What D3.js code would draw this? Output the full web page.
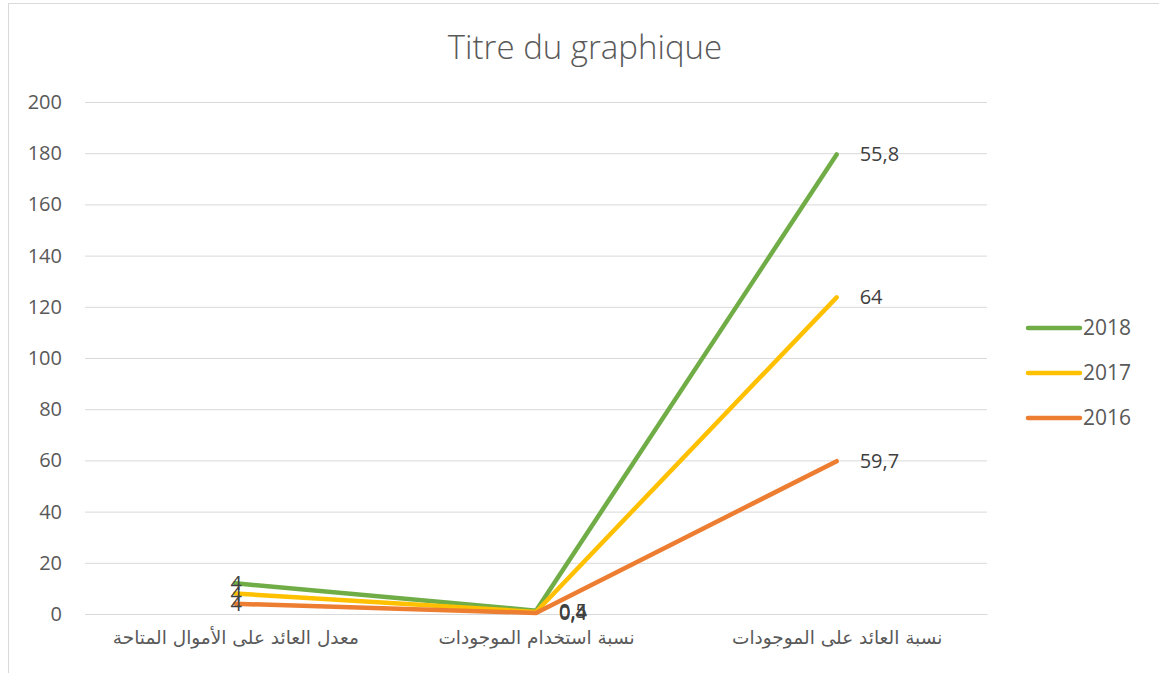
<!DOCTYPE html>
<html>
<head>
<meta charset="utf-8">
<script src="https://cdn.jsdelivr.net/npm/d3@7"></script>
<style>
  body { margin: 0; background: #fff; }
  text { font-family: "Open Sans", "DejaVu Sans", sans-serif; }
</style>
</head>
<body>
<div class="chart"></div>
<script>
// data
var categories = ["معدل العائد على الأموال المتاحة", "نسبة استخدام الموجودات", "نسبة العائد على الموجودات"];
var years = ["2016", "2017", "2018"];
var values2016 = [4, 0.4, 59.7];
var values2017 = [4, 0.4, 64];
var values2018 = [4, 0.5, 55.8];
var yTicks = [0, 20, 40, 60, 80, 100, 120, 140, 160, 180, 200];
var colors = {"2016": "#ED7D31", "2017": "#FFC000", "2018": "#70AD47"};

var svgWidth = 1159;
var svgHeight = 673;
var margin = {top: 102, right: 172, bottom: 59, left: 85};
var width = svgWidth - margin.left - margin.right;
var height = svgHeight - margin.top - margin.bottom;

var svg = d3.select(".chart")
    .append("svg")
    .attr("width", svgWidth)
    .attr("height", svgHeight);

// chart border (left and top visible)
svg.append("rect")
    .attr("x", 8.5).attr("y", 3.5)
    .attr("width", 1160).attr("height", 700)
    .attr("fill", "none").attr("stroke", "#d9d9d9");

svg.append("text")
    .attr("x", 585).attr("y", 59)
    .attr("text-anchor", "middle")
    .style("font-size", "33px")
    .style("font-weight", "300")
    .attr("fill", "#595959")
    .text("Titre du graphique");

var chart = svg.append("g")
    .attr("transform", "translate(" + margin.left + "," + margin.top + ")");

var x = d3.scalePoint().domain(categories).range([0, width]).padding(0.5);
var y = d3.scaleLinear().domain([0, 200]).range([height, 0]);

// gridlines
chart.append("g")
    .call(d3.axisLeft(y).tickValues(yTicks).tickSize(-width).tickFormat(""))
    .call(function(g) { g.select(".domain").remove(); })
    .selectAll("line").attr("stroke", "#d9d9d9");

// y tick labels
chart.append("g")
    .call(d3.axisLeft(y).tickValues(yTicks).tickSize(0).tickPadding(23))
    .call(function(g) { g.select(".domain").remove(); })
    .selectAll("text")
    .attr("fill", "#595959")
    .style("font-size", "20px")
    .style("font-family", "'Open Sans', sans-serif");

// x axis labels
chart.append("g")
    .attr("transform", "translate(0," + height + ")")
    .call(d3.axisBottom(x).tickSize(0).tickPadding(17))
    .call(function(g) { g.select(".domain").attr("stroke", "#d9d9d9"); })
    .selectAll("text")
    .attr("fill", "#595959")
    .style("font-size", "18.5px")
    .style("font-family", "'DejaVu Sans', 'Liberation Sans', sans-serif");

// stacked series
var raw = {"2016": values2016, "2017": values2017, "2018": values2018};
var rows = categories.map(function(c, i) {
    var r = {cat: c};
    years.forEach(function(yr) { r[yr] = raw[yr][i]; });
    return r;
});
var stacked = d3.stack().keys(years)(rows);

var line = d3.line()
    .x(function(d) { return x(d.data.cat); })
    .y(function(d) { return y(d[1]); });

chart.selectAll(".series")
    .data(stacked.slice().reverse())
    .enter()
    .append("path")
    .attr("d", line)
    .attr("fill", "none")
    .attr("stroke", function(s) { return colors[s.key]; })
    .attr("stroke-width", 4.5)
    .attr("stroke-linecap", "round")
    .attr("stroke-linejoin", "round");

// data labels
stacked.forEach(function(s) {
    chart.selectAll(".lbl" + s.key)
        .data(s)
        .enter()
        .append("text")
        .attr("x", function(d, i) { return x(d.data.cat) + (i === 0 ? 1 : 23); })
        .attr("y", function(d) { return y(d[1]); })
        .attr("dy", "0.35em")
        .attr("text-anchor", function(d, i) { return i === 0 ? "middle" : "start"; })
        .attr("fill", "#404040")
        .style("font-size", "20px")
        .text(function(d) { return String(d.data[s.key]).replace(".", ","); });
});

// legend
var legend = svg.append("g").attr("transform", "translate(1028,328)");
years.slice().reverse().forEach(function(yr, i) {
    var g = legend.append("g").attr("transform", "translate(0," + (i * 45) + ")");
    g.append("line")
        .attr("x1", 0).attr("x2", 52)
        .attr("stroke", colors[yr])
        .attr("stroke-width", 4.5)
        .attr("stroke-linecap", "round");
    g.append("text")
        .attr("x", 55).attr("dy", "0.35em")
        .attr("fill", "#595959")
        .style("font-size", "21px")
        .text(yr);
});
</script>
</body>
</html>
